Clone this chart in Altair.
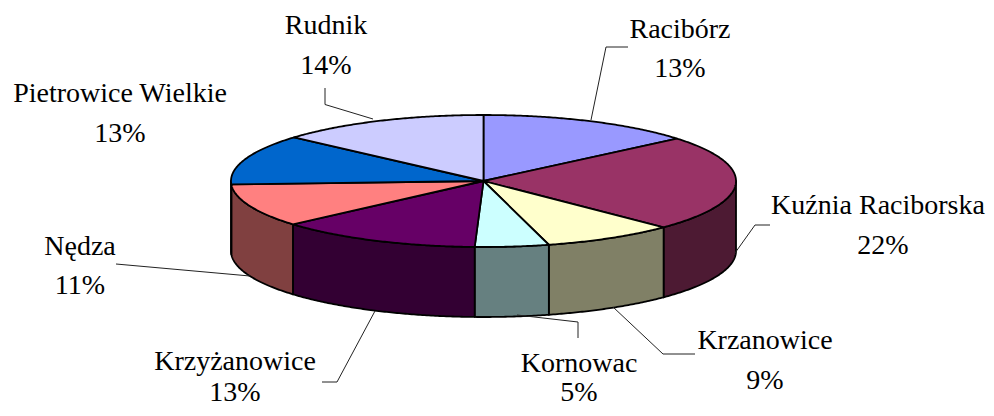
import math
import altair as alt
import pandas as pd

names = ["Racibórz", "Kuźnia Raciborska", "Krzanowice", "Kornowac", "Krzyżanowice", "Nędza", "Pietrowice Wielkie", "Rudnik"]
percents = ["13%", "22%", "9%", "5%", "13%", "11%", "13%", "14%"]
spans = [50, 84.5, 30.5, 17, 47, 38, 44.4, 48.6]
top_colors = ["#9999FF", "#993366", "#FFFFCC", "#CCFFFF", "#660066", "#FF8080", "#0066CC", "#CCCCFF"]
side_colors = ["#4D4D80", "#4D1A33", "#808066", "#668080", "#330033", "#804040", "#003366", "#666680"]

CX, CY, RX, RY, DEPTH = 483.5, 181, 252.5, 66, 70
OX, OY = 8, 8
W, H = 978, 400

label_x = [680, 878, 765, 579, 235, 80, 120, 326]
pct_x = [680, 883, 765, 579, 235, 80, 120, 326]
label_y = [38, 214, 349, 372, 370, 255, 102, 33.5]
pct_y = [77, 254, 389, 401, 401, 294, 142, 74]
leaders = [
    [(628, 47), (606, 47), (591, 120)],
    [(770, 225), (755, 225), (735, 253)],
    [(695, 354), (663, 354), (613, 307)],
    [(578, 338), (578, 322), (517, 315)],
    [(322, 382), (337, 382), (375, 311)],
    [(116, 264), (250, 276)],
    [(325, 88), (325, 104.5), (373, 119)],
]


def ell(t, drop=0.0):
    a = math.radians(t)
    return CX + RX * math.sin(a), CY - RY * math.cos(a) + drop


def x_data(px):
    return px - OX


def y_data(py):
    return py - OY


walls, tops = [], []
start = 0.0
for i, s in enumerate(spans):
    end = start + s
    n = max(2, int(s * 2))
    arc = [start + (end - start) * k / n for k in range(n + 1)]
    pts = [(CX, CY)] + [ell(t) for t in arc]
    tops.append((i, pts))
    lo, hi = max(start, 90), min(end, 270)
    if hi > lo:
        m = max(2, int((hi - lo) * 2))
        a2 = [lo + (hi - lo) * k / m for k in range(m + 1)]
        wall = [ell(t) for t in a2] + [ell(t, DEPTH) for t in reversed(a2)]
        walls.append((i, wall))
    start = end

X = alt.Scale(domain=[0, W], range=[0, W])
Y = alt.Scale(domain=[0, H], range=[0, H])


def poly(pts, color):
    df = pd.DataFrame({"x": [x_data(p[0]) for p in pts], "y": [y_data(p[1]) for p in pts], "o": range(len(pts))})
    return alt.Chart(df).mark_line(interpolate="linear-closed", fill=color, stroke="#000000", strokeWidth=1.8, strokeJoin="round").encode(
        x=alt.X("x:Q", scale=X, axis=None),
        y=alt.Y("y:Q", scale=Y, axis=None),
        order="o:Q",
    )


layers = []
for i, pts in walls:
    layers.append(poly(pts, side_colors[i]))
for i, pts in tops:
    layers.append(poly(pts, top_colors[i]))

for path in leaders:
    df = pd.DataFrame({"x": [x_data(p[0]) for p in path], "y": [y_data(p[1]) for p in path], "o": range(len(path))})
    layers.append(alt.Chart(df).mark_line(stroke="#222222", strokeWidth=1).encode(
        x=alt.X("x:Q", scale=X, axis=None), y=alt.Y("y:Q", scale=Y, axis=None), order="o:Q"))

rows = []
for n, p, lx, px, ly, py in zip(names, percents, label_x, pct_x, label_y, pct_y):
    rows.append({"t": n, "x": x_data(lx), "y": y_data(ly)})
    rows.append({"t": p, "x": x_data(px), "y": y_data(py)})
text = alt.Chart(pd.DataFrame(rows)).mark_text(font="Liberation Serif", fontSize=28, color="#000000", baseline="alphabetic", align="center").encode(
    x=alt.X("x:Q", scale=X, axis=None), y=alt.Y("y:Q", scale=Y, axis=None), text="t:N")
layers.append(text)

chart = alt.layer(*layers).properties(width=W, height=H, padding=0, autosize=alt.AutoSizeParams(type="none"), background="#FFFFFF").configure_view(stroke=None)
chart.save("out.html", embed_options={"renderer": "svg", "actions": False})
